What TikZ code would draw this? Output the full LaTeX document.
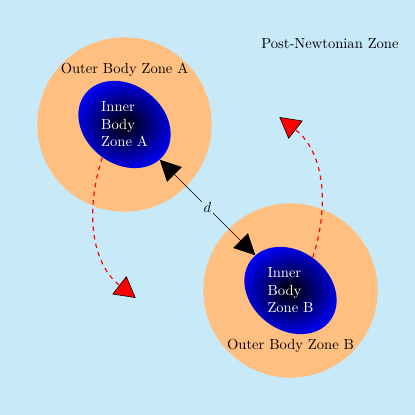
\documentclass[tikz,border=0pt]{standalone}
\usepackage{xcolor}
\usepackage{tikz}
\usetikzlibrary{arrows.meta,positioning,shapes.geometric,calc}
\definecolor{pnblue}{RGB}{199,233,248}

\begin{document}
\begin{tikzpicture}[
  outerzone/.style={circle, fill=orange!50, minimum size=4.2cm, inner sep=0pt},
  innerzone/.style={ellipse, shading=radial, inner color=black, outer color=blue, minimum width=2.4cm, minimum height=1.9cm, inner sep=0pt, rotate=-38},
  innertext/.style={align=left, text=white},
  orbit/.style={red, dashed, thick, -{Triangle[length=5mm, width=5.5mm, fill=red, color=black, line width=0.4pt]}},
  sepline/.style={{Triangle[length=5mm, width=5mm]}-{Triangle[length=5mm, width=5mm]}, black}
]
  \fill[pnblue] (0,0) rectangle (10,10);

  \node[outerzone] (outerA) at (3,7) {};
  \node[outerzone] (outerB) at (7,3) {};
  \node[innerzone] (innerA) at (3,7) {};
  \node[innerzone] (innerB) at (7,3) {};

  \node[innertext] (textA) at (innerA) {Inner\\Body\\Zone A};
  \node[innertext] (textB) at (innerB) {Inner\\Body\\Zone B};
  \node (labelA) at ($(outerA)+(0,1.33)$) {Outer Body Zone A};
  \node (labelB) at ($(outerB)+(0,-1.33)$) {Outer Body Zone B};
  \node (pnzone) at (7.95,8.94) {Post-Newtonian Zone};

  \coordinate (tipA) at (3.27,2.82);
  \coordinate (tipB) at (6.73,7.18);

  \draw[orbit] (innerA.-86) to[out=-108, in=142] (tipA);
  \draw[orbit] (innerB.94) to[out=72, in=-38] (tipB);

  \draw[sepline] (innerA) -- (innerB) node[midway, fill=pnblue, inner sep=1pt] {$d$};
\end{tikzpicture}
\end{document}
